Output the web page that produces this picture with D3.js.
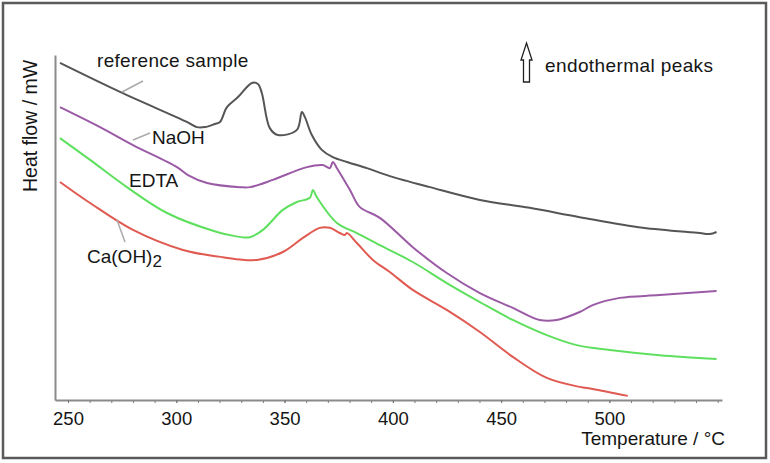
<!DOCTYPE html>
<html lang="en">
  <head>
    <meta charset="UTF-8" />
    <title>DSC curves</title>
    <style>
      body {
        margin: 0;
        background: #fff;
      }
      svg text {
        font-family: "Liberation Sans", Arial, sans-serif;
        fill: #151515;
      }
      .curve {
        fill: none;
        stroke-width: 2;
        stroke-linejoin: round;
      }
      .leader {
        stroke: #aaa;
        stroke-width: 1.5;
      }
    </style>
  </head>
  <body>
    <script src="https://d3js.org/d3.v7.min.js"></script>
    <script>
      // [temperature °C, heat flow (arbitrary units)]
      const referenceSample = [
        [246.3, 9.77], [274.0, 8.93], [304.9, 8.06], [309.5, 7.91],
        [313.2, 7.91], [317.8, 8.0], [320.2, 8.06], [323.4, 8.49],
        [328.5, 8.78], [334.9, 9.19], [337.7, 9.16], [339.5, 8.9],
        [343.2, 7.88], [346.9, 7.68], [355.7, 7.83], [358.0, 8.35],
        [359.4, 8.2], [362.6, 7.68], [367.2, 7.25], [372.3, 7.04],
        [378.8, 6.9], [388.0, 6.72], [398.6, 6.49], [417.1, 6.17],
        [440.2, 5.8], [463.2, 5.57], [486.3, 5.3], [515.4, 4.99],
        [541.7, 4.84], [546.3, 4.81], [549.5, 4.87],
      ];
      const naoh = [
        [246.3, 8.49], [264.8, 7.91], [280.0, 7.39], [300.3, 6.75],
        [305.4, 6.52], [314.2, 6.29], [329.4, 6.17], [334.0, 6.17],
        [344.6, 6.38], [360.3, 6.75], [367.7, 6.81], [370.9, 6.72],
        [372.3, 6.9], [374.2, 6.72], [380.2, 6.09], [384.8, 5.59],
        [394.0, 5.28], [409.2, 4.43], [424.9, 3.68], [440.2, 3.1],
        [455.4, 2.67], [467.8, 2.32], [475.7, 2.32], [486.3, 2.55],
        [492.3, 2.75], [504.8, 2.96], [523.2, 3.04], [549.5, 3.16],
      ];
      const edta = [
        [246.3, 7.59], [260.2, 6.96], [277.2, 6.17], [295.7, 5.42],
        [318.8, 4.87], [327.1, 4.75], [334.0, 4.72], [340.0, 4.93],
        [349.2, 5.51], [355.7, 5.74], [361.7, 5.86], [363.1, 6.09],
        [364.9, 5.88], [374.2, 5.13], [383.4, 4.84], [394.0, 4.49],
        [409.2, 4.0], [424.9, 3.39], [440.2, 2.84], [455.4, 2.32],
        [471.1, 1.88], [484.9, 1.59], [500.2, 1.45], [523.2, 1.3],
        [549.5, 1.19],
      ];
      const caOH2 = [
        [246.3, 6.32], [260.2, 5.71], [280.0, 4.93], [303.1, 4.35],
        [321.5, 4.14], [337.2, 4.06], [349.2, 4.29], [358.5, 4.7],
        [366.3, 4.99], [370.9, 4.99], [375.5, 4.84], [377.8, 4.78],
        [378.8, 4.84], [383.4, 4.55], [390.8, 4.06], [398.6, 3.71],
        [409.2, 3.19], [424.9, 2.61], [440.2, 1.97], [455.4, 1.25],
        [471.1, 0.64], [486.3, 0.38], [492.3, 0.32], [508.5, 0.12],
      ];

      const seriesNames = ["reference sample", "NaOH", "EDTA", "Ca(OH)2"];
      const seriesColors = ["#555555", "#9b5aa6", "#5ee05e", "#e05a52"];
      const seriesData = [referenceSample, naoh, edta, caOH2];

      const xMajorTicks = [250, 300, 350, 400, 450, 500];
      const xMinorTicks = d3.range(250, 551, 10);

      const width = 770;
      const height = 463;

      const svg = d3
        .select("body")
        .append("svg")
        .attr("width", width)
        .attr("height", height);

      // outer frame
      svg
        .append("rect")
        .attr("x", 3)
        .attr("y", 3)
        .attr("width", 763)
        .attr("height", 455)
        .attr("fill", "#fff")
        .attr("stroke", "#5a5a5a")
        .attr("stroke-width", 2.5);

      const xScale = d3.scaleLinear().domain([244, 552]).range([55, 722]);
      const yScale = d3.scaleLinear().domain([0, 10]).range([400, 55]);

      // minor ticks
      svg
        .append("g")
        .attr("transform", "translate(0, 400)")
        .call(d3.axisBottom(xScale).tickValues(xMinorTicks).tickSize(3).tickFormat(""))
        .call((g) => g.select(".domain").remove())
        .call((g) => g.selectAll("line").attr("stroke", "#777"));

      // x axis
      svg
        .append("g")
        .attr("transform", "translate(0, 400)")
        .call(
          d3.axisBottom(xScale).tickValues(xMajorTicks).tickSize(3).tickSizeOuter(0)
        )
        .call((g) => g.select(".domain").attr("stroke", "#8a8a8a").attr("stroke-width", 2))
        .call((g) => g.selectAll("line").attr("stroke", "#777"))
        .call((g) =>
          g
            .selectAll("text")
            .attr("font-size", 18.5)
            .attr("font-family", null)
            .attr("dy", null)
            .attr("y", 25)
        );

      // y axis (no ticks)
      svg
        .append("g")
        .attr("transform", "translate(55, 0)")
        .call(d3.axisLeft(yScale).ticks(0).tickSizeOuter(0))
        .call((g) => g.select(".domain").attr("stroke", "#8a8a8a").attr("stroke-width", 2));

      svg
        .append("text")
        .attr("x", 725)
        .attr("y", 445)
        .attr("text-anchor", "end")
        .attr("font-size", 19)
        .text("Temperature / °C");

      svg
        .append("text")
        .attr("transform", "translate(37, 192) rotate(-90)")
        .attr("font-size", 19.5)
        .text("Heat flow / mW");

      const line = d3
        .line()
        .x((d) => xScale(d[0]))
        .y((d) => yScale(d[1]))
        .curve(d3.curveCatmullRom.alpha(0.5));

      svg
        .append("g")
        .selectAll("path")
        .data(seriesData)
        .join("path")
        .attr("class", "curve")
        .attr("stroke", (d, i) => seriesColors[i])
        .attr("d", line);

      // leader lines
      const leaders = [
        [122, 92, 143, 81],
        [133, 140, 150, 133],
        [117, 220, 125, 242],
      ];
      svg
        .append("g")
        .selectAll("line")
        .data(leaders)
        .join("line")
        .attr("class", "leader")
        .attr("x1", (d) => d[0])
        .attr("y1", (d) => d[1])
        .attr("x2", (d) => d[2])
        .attr("y2", (d) => d[3]);

      // curve labels
      const labels = svg.append("g").attr("font-size", 19);
      labels.append("text").attr("x", 97).attr("y", 67).attr("letter-spacing", 0.3).text(seriesNames[0]);
      labels.append("text").attr("x", 152).attr("y", 144).text(seriesNames[1]);
      labels.append("text").attr("x", 129).attr("y", 187).text(seriesNames[2]);
      const ca = labels.append("text").attr("x", 87).attr("y", 263);
      ca.append("tspan").text("Ca(OH)");
      ca.append("tspan").attr("dy", 4).attr("font-size", 17).text("2");

      // endothermal arrow
      svg
        .append("path")
        .attr(
          "d",
          "M526.5,43 L532,60 L529.5,60 L529.5,82 L523.5,82 L523.5,60 L521,60 Z"
        )
        .attr("fill", "#fff")
        .attr("stroke", "#222")
        .attr("stroke-width", 1.3)
        .attr("stroke-linejoin", "miter");

      svg
        .append("text")
        .attr("x", 545)
        .attr("y", 72)
        .attr("font-size", 19)
        .attr("letter-spacing", 0.4)
        .text("endothermal peaks");
    </script>
  </body>
</html>
